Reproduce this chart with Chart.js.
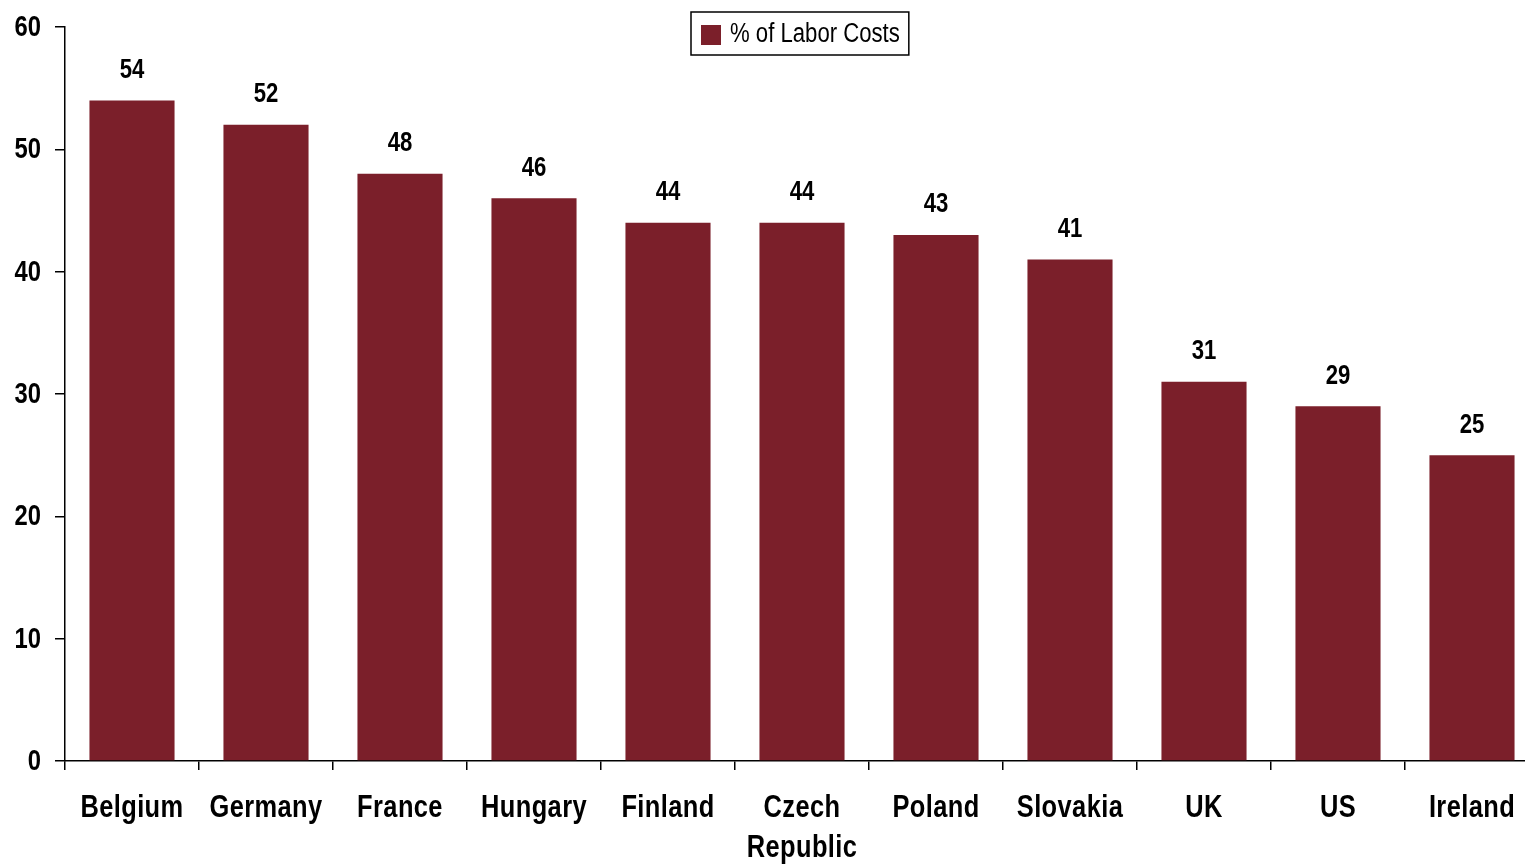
<!DOCTYPE html>
<html>
<head>
<meta charset="utf-8">
<script src="https://cdn.jsdelivr.net/npm/chart.js@4/dist/chart.umd.min.js"></script>
<style>
  html, body { margin: 0; padding: 0; background: #fff; overflow: hidden; }
  #graph { display: block; }
</style>
</head>
<body>
<canvas id="graph" width="1539" height="864"></canvas>
<script>
const countries = ['Belgium', 'Germany', 'France', 'Hungary', 'Finland', ['Czech', 'Republic'], 'Poland', 'Slovakia', 'UK', 'US', 'Ireland']
const laborCosts = [54, 52, 48, 46, 44, 44, 43, 41, 31, 29, 25]
const seriesName = '% of Labor Costs'
const yTicks = [0, 10, 20, 30, 40, 50, 60]

const barColor = '#7b1f2a'
const face = '"Liberation Sans", Arial, sans-serif'
const squeeze = 0.82 // narrow look, like Arial Narrow

// draw text squeezed horizontally, anchored at (x, y)
function narrowText(c, text, x, y, align) {
    c.save()
    c.translate(x, y)
    c.scale(squeeze, 1)
    c.textAlign = align
    c.fillText(text, 0, 0)
    c.restore()
}

// axis tick labels, placed from the chart's scales
const axisLabels = {
    id: 'axisLabels',
    afterDraw(chart) {
        const c = chart.ctx
        const xs = chart.scales.x
        const ys = chart.scales.y
        c.save()
        c.fillStyle = '#000'
        c.textBaseline = 'middle'

        c.font = 'bold 29px ' + face
        yTicks.forEach(v => narrowText(c, String(v), 41, ys.getPixelForValue(v) + 1, 'right'))

        c.font = 'bold 31px ' + face
        c.letterSpacing = '0.5px'
        countries.forEach((label, i) => {
            const lines = Array.isArray(label) ? label : [label]
            const x = xs.getPixelForValue(i)
            lines.forEach((line, k) => narrowText(c, line, x, xs.top + 47 + k * 40, 'center'))
        })
        c.restore()
    }
}

// value labels above each bar
const valueLabels = {
    id: 'valueLabels',
    afterDatasetsDraw(chart) {
        const c = chart.ctx
        const meta = chart.getDatasetMeta(0)
        c.save()
        c.font = 'bold 27px ' + face
        c.fillStyle = '#000'
        c.textBaseline = 'middle'
        meta.data.forEach((bar, i) => {
            narrowText(c, String(laborCosts[i]), bar.x, bar.y - 30, 'center')
        })
        c.restore()
    }
}

// boxed legend at the top
const boxedLegend = {
    id: 'boxedLegend',
    afterDraw(chart) {
        const c = chart.ctx
        c.save()
        c.font = '27px ' + face
        const textW = c.measureText(seriesName).width * squeeze
        const x = 691
        const y = 12
        const w = 10 + 20 + 9 + textW + 9
        const h = 43
        c.strokeStyle = '#000'
        c.lineWidth = 1.5
        c.strokeRect(x, y, w, h)
        c.fillStyle = barColor
        c.fillRect(x + 10, y + 13, 20, 20)
        c.fillStyle = '#000'
        c.textBaseline = 'middle'
        narrowText(c, seriesName, x + 39, y + h / 2 + 1, 'left')
        c.restore()
    }
}

const data = {
    labels: countries,
    datasets: [{
        label: seriesName,
        data: laborCosts,
        backgroundColor: barColor,
        borderWidth: 0,
        barPercentage: 0.635,
        categoryPercentage: 1
    }]
}

const config = {
    type: 'bar',
    data: data,
    options: {
        responsive: false,
        animation: false,
        layout: { padding: { top: 27, right: 0, left: 0, bottom: 0 } },
        plugins: {
            legend: { display: false },
            tooltip: { enabled: false }
        },
        scales: {
            x: {
                grid: {
                    offset: true,
                    drawOnChartArea: false,
                    tickLength: 9,
                    color: '#000',
                    lineWidth: 1.5
                },
                border: { color: '#000', width: 1.5 },
                ticks: { display: false },
                afterFit(scale) { scale.height = 103 }
            },
            y: {
                min: 0,
                max: 60,
                afterBuildTicks(scale) { scale.ticks = yTicks.map(v => ({ value: v })) },
                grid: {
                    drawOnChartArea: false,
                    tickLength: 10,
                    color: '#000',
                    lineWidth: 1.5
                },
                border: { color: '#000', width: 1.5 },
                ticks: { display: false },
                afterFit(scale) { scale.width = 65 }
            }
        }
    },
    plugins: [valueLabels, axisLabels, boxedLegend]
}

const ctx = document.getElementById('graph').getContext('2d')
const graph = new Chart(ctx, config)
</script>
</body>
</html>
